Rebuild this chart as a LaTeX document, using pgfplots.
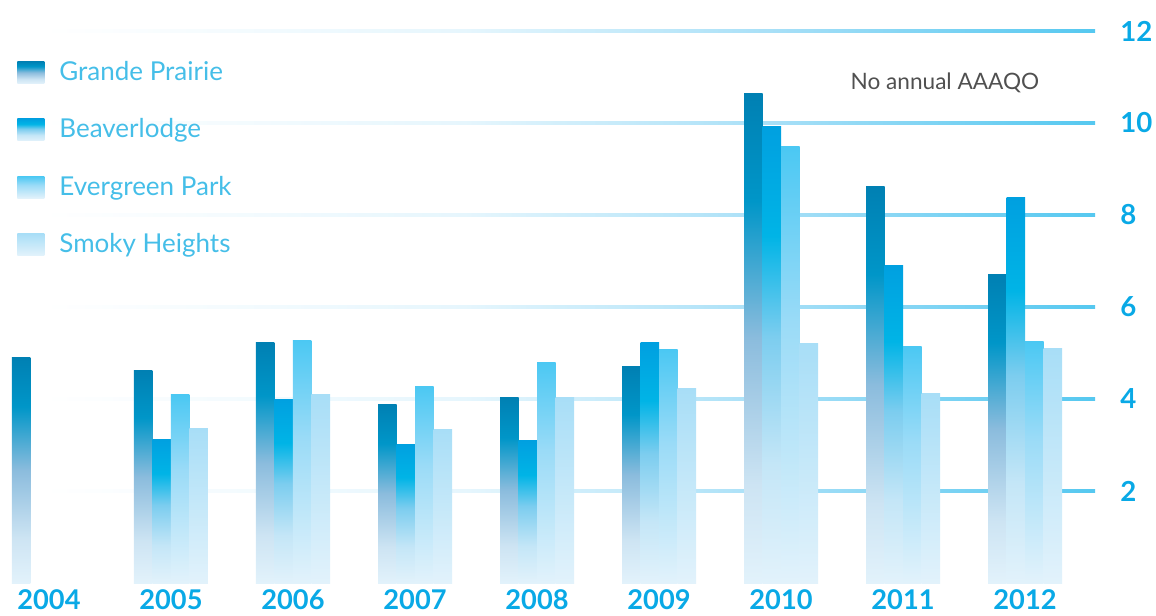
\documentclass[border=0pt]{standalone}
\usepackage{pgfplots}
\pgfplotsset{compat=1.18}
\usepackage{fontspec}
\setmainfont{Lato}
\definecolor{gridc}{HTML}{55C8F0}
\definecolor{gridm}{HTML}{A6DFF7}
\definecolor{gridl}{HTML}{E6F6FD}
\definecolor{legtxt}{HTML}{45BEE8}
\definecolor{ticktxt}{HTML}{09A9E6}
\definecolor{notetxt}{HTML}{505050}
\definecolor{lightbot}{HTML}{E2F2FB}
% Grande Prairie
\definecolor{gpA}{HTML}{0080B3}
\definecolor{gpB}{HTML}{0096C8}
\definecolor{gpC}{HTML}{8BBCDD}
\definecolor{gpD}{HTML}{CDE4F3}
% Beaverlodge
\definecolor{blA}{HTML}{00A0E0}
\definecolor{blB}{HTML}{00B4E6}
\definecolor{blC}{HTML}{7CCDEF}
\definecolor{blD}{HTML}{C4E6F7}
% Evergreen Park
\definecolor{epA}{HTML}{4BC8F3}
\definecolor{epB}{HTML}{9ADBF7}
% Smoky Heights
\definecolor{shA}{HTML}{A8DEF7}
\pgfdeclareverticalshading{gpshade}{100bp}{color(0bp)=(lightbot); color(25bp)=(lightbot); color(35bp)=(gpD); color(50bp)=(gpC); color(64bp)=(gpB); color(75bp)=(gpA); color(100bp)=(gpA)}
\pgfdeclareverticalshading{blshade}{100bp}{color(0bp)=(lightbot); color(25bp)=(lightbot); color(38bp)=(blD); color(52bp)=(blC); color(63bp)=(blB); color(75bp)=(blA); color(100bp)=(blA)}
\pgfdeclareverticalshading{epshade}{100bp}{color(0bp)=(lightbot); color(25bp)=(lightbot); color(55bp)=(epB); color(75bp)=(epA); color(100bp)=(epA)}
\pgfdeclareverticalshading{shshade}{100bp}{color(0bp)=(lightbot); color(25bp)=(lightbot); color(75bp)=(shA); color(100bp)=(shA)}
\pgfdeclarehorizontalshading{gridshade}{100bp}{color(0bp)=(white); color(25bp)=(white); color(45bp)=(gridl); color(60bp)=(gridm); color(75bp)=(gridc); color(100bp)=(gridc)}

% one bar: shading, shift, x, value
\newcommand\onebar[4]{\addplot[forget plot, ybar, draw=none, shading=#1, bar shift=#2] coordinates {(#3,#4)};}
\newcommand\gp[2]{\onebar{gpshade}{-13.875pt}{#1}{#2}}
\newcommand\bl[2]{\onebar{blshade}{-4.625pt}{#1}{#2}}
\newcommand\ep[2]{\onebar{epshade}{4.625pt}{#1}{#2}}
\newcommand\sh[2]{\onebar{shshade}{13.875pt}{#1}{#2}}

\begin{document}
\begin{tikzpicture}
\path[use as bounding box] (0,-16.2pt) rectangle (578pt,291.5pt);
\begin{axis}[
  scale only axis,
  width=547.5pt, height=291.5pt,
  xmin=-0.4016, xmax=8.5738,
  ymin=0, ymax=12.674,
  axis x line*=bottom, axis y line*=right,
  x axis line style={draw=none}, y axis line style={draw=none},
  bar width=9.25pt,
  xtick={0,...,8},
  xticklabels={2004,2005,2006,2007,2008,2009,2010,2011,2012},
  ytick={2,4,6,8,10,12},
  yticklabel pos=right,
  major tick length=0pt,
  xticklabel style={font=\fontsize{13.6pt}{13.6pt}\selectfont\bfseries, text=ticktxt, inner sep=0pt, anchor=north, yshift=-3pt},
  yticklabel style={font=\fontsize{13.8pt}{13.8pt}\selectfont\bfseries, text=ticktxt, inner sep=0pt, anchor=west, xshift=12.5pt},
  /pgf/number format/assume math mode=true,
  clip=false,
  legend cell align=left,
  legend style={draw=none, fill=none, at={(axis description cs:0,1)}, anchor=north west,
    xshift=8.5pt, yshift=-30.5pt, inner sep=0pt, row sep=17.6pt,
    nodes={inner sep=0pt, text=legtxt, font=\fontsize{13pt}{13pt}\selectfont, minimum height=11pt, anchor=west}},
  legend image code/.code={\path[#1, draw=none] (0pt,-5.5pt) rectangle (13.5pt,5.5pt);},
]
% fading grid lines (drawn first, behind the bars)
\pgfplotsinvokeforeach{2,4,6,8,10,12}{
  \addplot[forget plot, sharp plot, draw=none, shading=gridshade] coordinates {(-0.05,#1-0.022) (8.5738,#1-0.022) (8.5738,#1+0.022) (-0.05,#1+0.022)} -- cycle;
}
% 2004
\gp{0}{4.91}
% 2005
\gp{1}{4.61} \bl{1}{3.13} \ep{1}{4.09} \sh{1}{3.35}
% 2006
\gp{2}{5.22} \bl{2}{4.00} \ep{2}{5.28} \sh{2}{4.09}
% 2007
\gp{3}{3.89} \bl{3}{3.02} \ep{3}{4.28} \sh{3}{3.33}
% 2008
\gp{4}{4.04} \bl{4}{3.09} \ep{4}{4.80} \sh{4}{4.04}
% 2009
\gp{5}{4.70} \bl{5}{5.22} \ep{5}{5.07} \sh{5}{4.22}
% 2010
\gp{6}{10.65} \bl{6}{9.93} \ep{6}{9.48} \sh{6}{5.20}
% 2011
\gp{7}{8.61} \bl{7}{6.91} \ep{7}{5.15} \sh{7}{4.11}
% 2012
\gp{8}{6.70} \bl{8}{8.37} \ep{8}{5.26} \sh{8}{5.09}
\addlegendimage{shading=gpshade}
\addlegendentry{\hspace*{7.5pt}Grande Prairie}
\addlegendimage{shading=blshade}
\addlegendentry{\hspace*{7.5pt}Beaverlodge}
\addlegendimage{shading=epshade}
\addlegendentry{\hspace*{7.5pt}Evergreen Park}
\addlegendimage{shading=shshade}
\addlegendentry{\hspace*{7.5pt}Smoky Heights}
\node[font=\fontsize{11.3pt}{11.3pt}\selectfont, text=notetxt] at (axis cs:7.344,10.88) {No annual AAAQO};
\end{axis}
\end{tikzpicture}
\end{document}
